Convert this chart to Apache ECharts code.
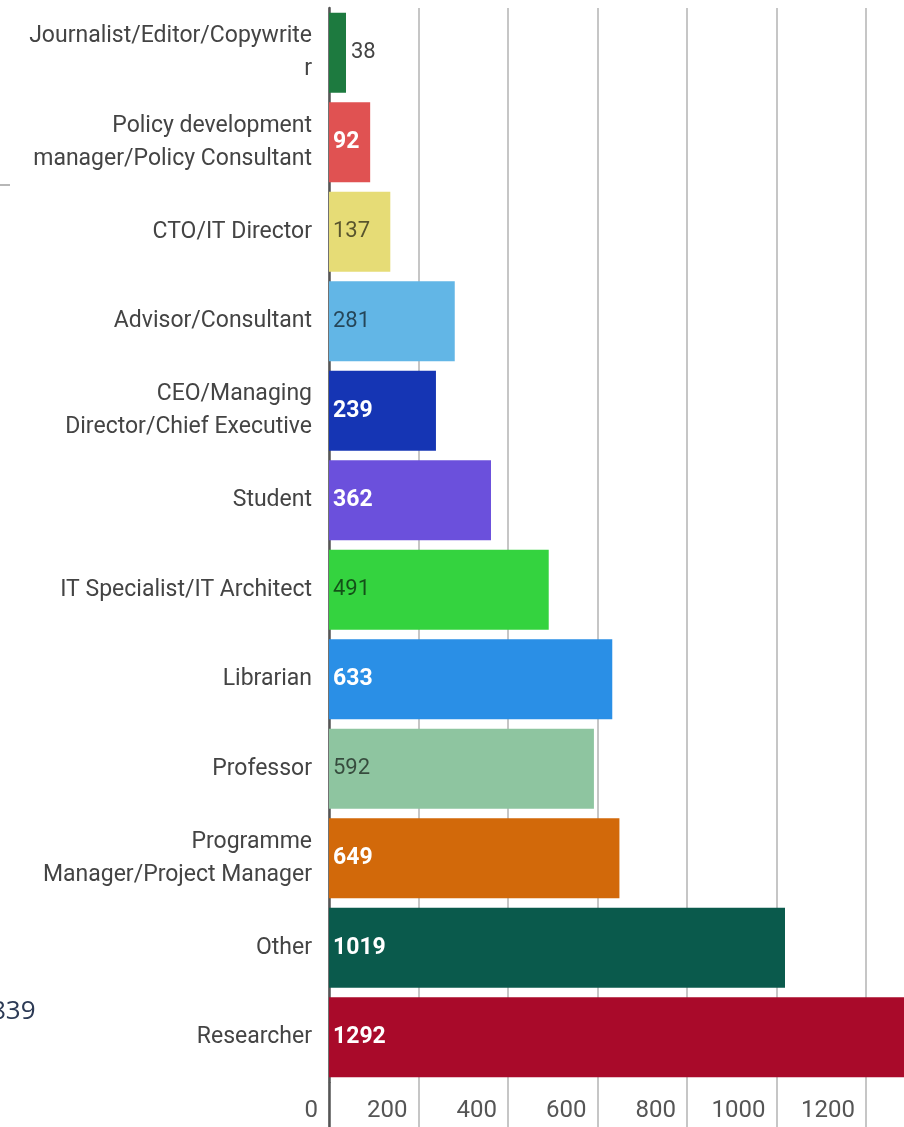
<!DOCTYPE html>
<html>
<head>
<meta charset="utf-8">
<script src="https://cdn.jsdelivr.net/npm/echarts@6/dist/echarts.min.js"></script>
<style>
html,body{margin:0;padding:0;background:#fff;overflow:hidden;}
#chart{width:904px;height:1127px;}
</style>
</head>
<body>
<div id="chart"></div>
<script>
// ---- data ----
const categories = [
  'Journalist/Editor/Copywrite\nr',
  'Policy development\nmanager/Policy Consultant',
  'CTO/IT Director',
  'Advisor/Consultant',
  'CEO/Managing\nDirector/Chief Executive',
  'Student',
  'IT Specialist/IT Architect',
  'Librarian',
  'Professor',
  'Programme\nManager/Project Manager',
  'Other',
  'Researcher'
];
const values = [38, 92, 137, 281, 239, 362, 491, 633, 592, 649, 1019, 1292];
const xTicks = [0, 200, 400, 600, 800, 1000, 1200];
const sideNote = '839';

// ---- styling ----
const barColors = ['#1d7a3f','#e05252','#e6dc76','#62b6e6','#1535b4','#6b50dc',
                   '#34d33f','#2a8fe6','#8ec5a0','#d2690a','#0a5a4c','#a90a2a'];
const whiteLabel = [false,true,false,false,true,true,false,true,false,true,true,true];
const outsideLabel = [true,false,false,false,false,false,false,false,false,false,false,false];

const FONT = 'Roboto, "Noto Sans", sans-serif';
const X_MAX = 1400; // axis runs past the cropped right edge

const chart = echarts.init(document.getElementById('chart'), null, {renderer:'canvas'});

const seriesData = values.map((v, i) => ({
  value: v,
  itemStyle: { color: barColors[i] },
  label: outsideLabel[i]
    ? { position: 'right', distance: 5, color: '#444', fontWeight: 'normal', fontSize: 22 }
    : whiteLabel[i]
      ? { position: 'insideLeft', distance: 4, color: '#ffffff', fontWeight: 'bold', fontSize: 23 }
      : { position: 'insideLeft', distance: 4, color: 'rgba(0,0,0,0.62)', fontWeight: 'normal', fontSize: 22 }
}));

chart.setOption({
  animation: false,
  backgroundColor: '#ffffff',
  grid: { left: 329, top: 8, bottom: 45, width: 626.5, outerBoundsMode: 'none' },
  xAxis: [{
    type: 'value',
    min: xTicks[0],
    max: X_MAX,
    interval: 200,
    position: 'bottom',
    axisLine: { show: false },
    axisTick: { show: true, length: 45, inside: false, lineStyle: { color: '#b8b8b8', width: 1.6 } },
    splitLine: { show: true, lineStyle: { color: '#b8b8b8', width: 1.6 } },
    axisLabel: {
      show: true,
      formatter: v => (xTicks.indexOf(v) >= 0) ? String(v) : '',
      align: 'right',
      padding: [0, 11, 0, 0],
      margin: 17,
      fontFamily: FONT,
      fontSize: 24,
      color: '#555'
    }
  }, {
    type: 'value',
    min: xTicks[0],
    max: X_MAX,
    position: 'bottom',
    axisLine: { show: false },
    axisLabel: { show: false },
    splitLine: { show: false },
    axisTick: { show: true, customValues: [0], length: 45, lineStyle: { color: '#555', width: 2.5 } }
  }],
  yAxis: {
    type: 'category',
    data: categories,
    inverse: true,
    axisLine: { show: true, lineStyle: { color: '#555', width: 2.5 } },
    axisTick: { show: false },
    splitLine: { show: false },
    axisLabel: {
      margin: 17,
      fontFamily: FONT,
      fontSize: 23,
      lineHeight: 33,
      color: '#444',
      align: 'right'
    }
  },
  series: [{
    type: 'bar',
    data: seriesData,
    barCategoryGap: '10.5%',
    label: {
      show: true,
      fontFamily: FONT,
      fontSize: 22
    }
  }],
  graphic: [
    { type: 'text', left: -9, top: 999, style: { text: sideNote, font: '26px "Open Sans", sans-serif', fill: '#2c3a55' } },
    { type: 'line', shape: { x1: 0, y1: 185, x2: 10, y2: 185 }, style: { stroke: '#888', lineWidth: 1.2 } }
  ]
});
</script>
</body>
</html>
